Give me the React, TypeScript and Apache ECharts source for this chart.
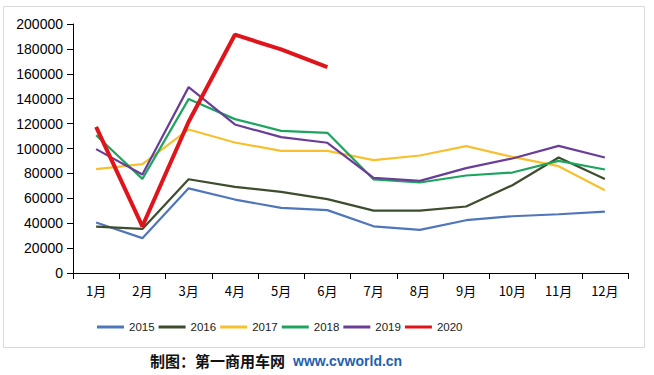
import React, { useEffect, useRef } from "react";
import * as echarts from "echarts";

const months = ["1月", "2月", "3月", "4月", "5月", "6月", "7月", "8月", "9月", "10月", "11月", "12月"];
const yearNames = ["2015", "2016", "2017", "2018", "2019", "2020"];
const s2015 = [40500, 28000, 68000, 59000, 52300, 50500, 37500, 34600, 42400, 45600, 47200, 49300];
const s2016 = [37300, 35400, 75300, 69200, 65100, 59300, 50100, 50100, 53400, 70500, 92800, 75600];
const s2017 = [83500, 87400, 115300, 104800, 98100, 98100, 90600, 94400, 101900, 93300, 85800, 66500];
const s2018 = [110700, 75600, 139700, 123600, 114200, 112600, 75100, 72700, 78300, 80700, 90100, 83100];
const s2019 = [99500, 79100, 149300, 119300, 109100, 104600, 76400, 74000, 84200, 92000, 102100, 92800];
const s2020 = [117400, 37500, 121500, 191400, 179600, 165400];
const yTicks = { min: 0, max: 200000, interval: 20000 };
const colors = ["#4f76ba", "#3d4d2e", "#f6c02f", "#1ea45f", "#6a3d98", "#e0141b"];

export default function App() {
  const ref = useRef<HTMLDivElement>(null);
  useEffect(() => {
    document.body.style.margin = "0";
    const chart = echarts.init(ref.current!, null, { renderer: "svg" });
    const all = [s2015, s2016, s2017, s2018, s2019, s2020];
    chart.setOption({
      animation: false,
      backgroundColor: "#ffffff",
      color: colors,
      grid: { left: 73, right: 26, top: 24, bottom: 102 },
      legend: {
        data: yearNames,
        top: 316,
        left: 92,
        itemWidth: 27,
        itemHeight: 3,
        itemGap: 4,
        icon: "rect",
        textStyle: { fontFamily: "Liberation Sans", fontSize: 11.5, color: "#222" },
      },
      xAxis: {
        type: "category",
        data: months,
        boundaryGap: true,
        axisLine: { lineStyle: { color: "#000", width: 1 } },
        axisTick: { show: true, length: 6, lineStyle: { color: "#000" } },
        axisLabel: { color: "#000", fontSize: 13, margin: 11, fontFamily: "Noto Sans CJK SC" },
      },
      yAxis: {
        type: "value",
        min: yTicks.min,
        max: yTicks.max,
        interval: yTicks.interval,
        splitLine: { show: false },
        axisLine: { show: true, lineStyle: { color: "#000", width: 1 } },
        axisTick: { show: true, length: 6, lineStyle: { color: "#000" } },
        axisLabel: {
          color: "#000",
          fontSize: 14,
          margin: 10,
          fontFamily: "Liberation Sans",
          formatter: (v: number) => String(v),
        },
      },
      series: all.map((d, i) => ({
        name: yearNames[i],
        type: "line",
        data: d,
        showSymbol: false,
        symbol: "none",
        lineStyle: { width: i === 5 ? 4 : 2.2 },
        z: i === 5 ? 10 : 2 + i,
      })),
      graphic: [
        {
          type: "rect",
          shape: { x: 3.5, y: 6.5, width: 641, height: 341 },
          style: { fill: "none", stroke: "#d9d9d9", lineWidth: 1 },
          z: -1,
        },
        {
          type: "text",
          x: 150,
          y: 353,
          style: {
            text: "制图：第一商用车网",
            font: "bold 15px 'Noto Sans CJK SC'",
            fill: "#111",
          },
        },
        {
          type: "text",
          x: 293,
          y: 354,
          style: {
            text: "www.cvworld.cn",
            font: "bold 14px 'Liberation Sans'",
            fill: "#1f5fae",
          },
        },
      ],
    });
    return () => chart.dispose();
  }, []);
  return <div ref={ref} style={{ width: 654, height: 375 }} />;
}
